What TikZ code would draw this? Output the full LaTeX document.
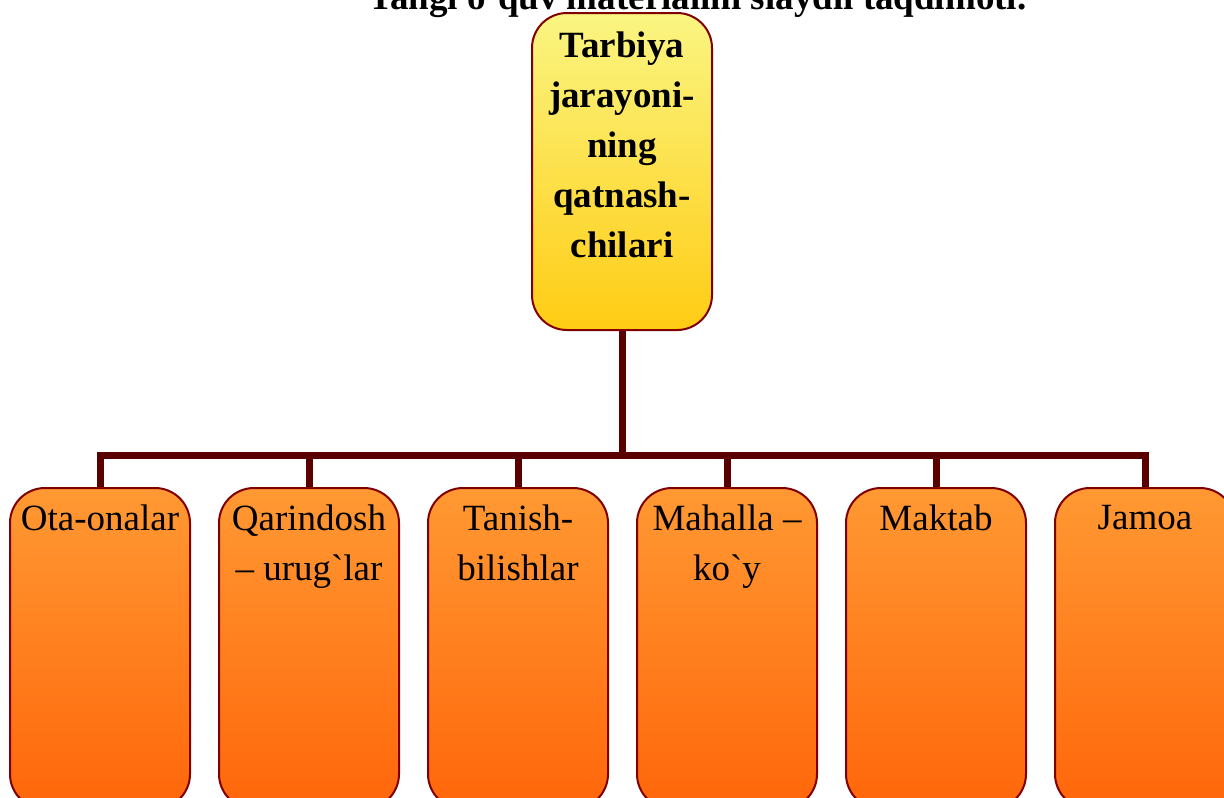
\documentclass[tikz,border=0pt]{standalone}
\usepackage{fontspec}
\setmainfont{Liberation Serif}[Ligatures=TeXOff]
\newcommand{\grv}{\char"0060\relax}
\definecolor{ytop}{RGB}{250,245,130}
\definecolor{ybot}{RGB}{255,204,20}
\definecolor{otop}{RGB}{255,153,51}
\definecolor{obot}{RGB}{255,102,10}
\definecolor{bord}{RGB}{128,0,0}
\definecolor{conn}{RGB}{90,0,0}
\begin{document}
\begin{tikzpicture}[x=1pt,y=-1pt,
  topbox/.style={draw=bord, line width=2pt, rounded corners=35pt, top color=ytop, bottom color=ybot,
    minimum width=180pt, minimum height=317pt, inner sep=0pt, anchor=north},
  botbox/.style={draw=bord, line width=2pt, rounded corners=35pt, top color=otop, bottom color=obot,
    minimum width=180pt, minimum height=321pt, inner sep=0pt, anchor=north},
  btxt/.style={anchor=north, inner sep=0pt, align=center, font=\fontsize{37}{50}\selectfont},
  ttxt/.style={anchor=north, inner sep=0pt, align=center, font=\fontsize{37}{50}\selectfont\bfseries},
  connector/.style={draw=conn, line width=7pt, line join=miter}]
\useasboundingbox (0,0) rectangle (1224,798);
\node[anchor=base, inner sep=0pt, font=\fontsize{37}{50}\selectfont\bfseries] (title) at (697,9) {Yangi o\grv quv materialini slaydli taqdimoti.};
\node[topbox] (top) at (622,12) {};
\node[ttxt] (toptxt) at ([yshift=-20pt]top.north) {Tarbiya\\jarayoni-\\ning\\qatnash-\\chilari};
\foreach \i/\x in {1/100,2/309,3/518,4/727,5/936,6/1145}{
  \node[botbox] (b\i) at (\x,487) {};
}
\node[btxt] (t1) at ([yshift=-18pt]b1.north) {Ota-onalar};
\node[btxt] (t2) at ([yshift=-18pt]b2.north) {Qarindosh\\– urug\grv lar};
\node[btxt] (t3) at ([yshift=-18pt]b3.north) {Tanish-\\bilishlar};
\node[btxt] (t4) at ([yshift=-18pt]b4.north) {Mahalla –\\ko\grv y};
\node[btxt] (t5) at ([yshift=-18pt]b5.north) {Maktab};
\node[btxt] (t6) at ([yshift=-18pt]b6.north) {Jamoa};
\coordinate (j) at (622,455);
\draw[connector] (top.south) -- (j);
\draw[connector] (b1.north) |- (j) -| (b6.north);
\foreach \i in {2,3,4,5}{
  \draw[connector] (b\i.north) -- (b\i.north |- j);
}
\end{tikzpicture}
\end{document}
